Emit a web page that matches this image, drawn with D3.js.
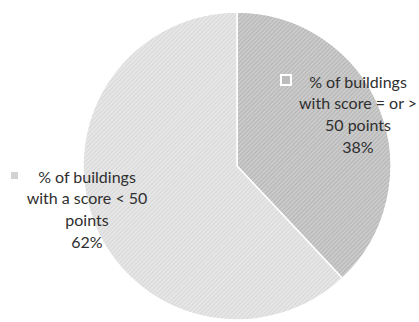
<!DOCTYPE html>
<html>
<head>
<meta charset="utf-8">
<script src="https://cdn.jsdelivr.net/npm/d3@7"></script>
<style>
  html, body { margin: 0; padding: 0; background: #fff; }
  svg { display: block; }
  text { font-family: Lato, "Open Sans", sans-serif; fill: #2f2f2f; }
</style>
</head>
<body>
<svg id="chart" width="419" height="322"></svg>
<script>
// Share of buildings by score band
const categories = ["% of buildings with score = or > 50 points", "% of buildings with a score < 50 points"];
const values = [38, 62];
const labelLines = [
  ["% of buildings", "with score = or >", "50 points", "38%"],
  ["% of buildings", "with a score < 50", "points", "62%"]
];

const W = 419, H = 322;
const cx = 237, cy = 166, R = 154;

const svg = d3.select("#chart");
const defs = svg.append("defs");

// Diagonal hatch fills, one per slice
const fills = [
  { id: "hatchDark", base: "#cdcdcd", line: "#b5b5b5", key: "#bcbcbc" },
  { id: "hatchLight", base: "#e8e8e8", line: "#d8d8d8", key: "#d2d2d2" }
];
fills.forEach(f => {
  const p = defs.append("pattern")
    .attr("id", f.id)
    .attr("patternUnits", "userSpaceOnUse")
    .attr("width", 3).attr("height", 3)
    .attr("patternTransform", "rotate(45)");
  p.append("rect").attr("width", 3).attr("height", 3).attr("fill", f.base);
  p.append("rect").attr("width", 1.2).attr("height", 3).attr("fill", f.line);
});

const pie = d3.pie().sort(null).value(d => d.value);
const arc = d3.arc().innerRadius(0).outerRadius(R);
const data = pie(categories.map((c, i) => ({ name: c, value: values[i], i })));

const g = svg.append("g").attr("transform", `translate(${cx},${cy})`);
g.selectAll("path.slice")
  .data(data)
  .join("path")
  .attr("class", "slice")
  .attr("d", arc)
  .attr("fill", d => `url(#${fills[d.data.i].id})`)
  .attr("stroke", "#fff")
  .attr("stroke-width", 1.5);

// Data labels with legend keys
const labelPos = [
  { x: 358, y: 82, key: { x: 281, y: 75, s: 10, stroke: "#fff" } },
  { x: 87, y: 177, key: { x: 11, y: 172, s: 7, stroke: "none" } }
];
const lineH = 21.8;

data.forEach((d, i) => {
  const pos = labelPos[i];
  const lg = svg.append("g");
  lg.append("rect")
    .attr("x", pos.key.x).attr("y", pos.key.y)
    .attr("width", pos.key.s).attr("height", pos.key.s)
    .attr("fill", fills[i].key)
    .attr("stroke", pos.key.stroke)
    .attr("stroke-width", 2);
  const t = lg.append("text")
    .attr("text-anchor", "middle")
    .attr("font-size", 16);
  labelLines[i].forEach((ln, k) => {
    t.append("tspan")
      .attr("x", pos.x)
      .attr("y", pos.y + k * lineH)
      .attr("dy", "0.35em")
      .text(ln);
  });
});
</script>
</body>
</html>
